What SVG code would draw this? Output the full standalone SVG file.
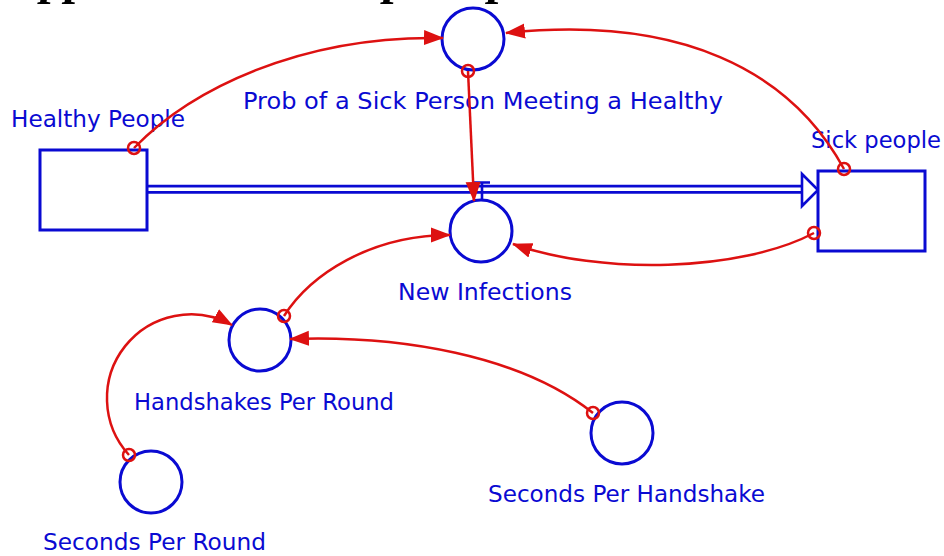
<svg xmlns="http://www.w3.org/2000/svg" width="944" height="556" viewBox="0 0 944 556">
<style>
.lbl{font-family:"DejaVu Sans","Liberation Sans",sans-serif;font-size:23px;fill:#0a0ad2}
.title{font-family:"Liberation Serif",serif;font-size:49px;font-weight:bold;font-style:italic;fill:#000}
.stock{fill:#fff;stroke:#0a0ad2;stroke-width:3}
.aux{fill:#fff;stroke:#0a0ad2;stroke-width:3}
.link{fill:none;stroke:#dd1111;stroke-width:2.5;marker-end:url(#ah)}
.org{fill:none;stroke:#dd1111;stroke-width:2.5}
</style>
<defs>
<marker id="ah" markerUnits="userSpaceOnUse" markerWidth="22" markerHeight="16" refX="19" refY="7.5" orient="auto" viewBox="0 0 22 15">
<path d="M0,0 L20,7.5 L0,15 Z" fill="#dd1111"/>
</marker>
</defs>
<rect width="944" height="556" fill="#fff"/>
<text class="title" x="8" y="-6">Application to Simple Epidemic</text>

<g id="flow">
<line x1="147" y1="189.3" x2="804" y2="189.3" stroke="#0a0ad2" stroke-width="9"/>
<line x1="146" y1="189.3" x2="806" y2="189.3" stroke="#fff" stroke-width="3.5"/>
<polygon points="802,174 818,190 802,206" fill="#fff" stroke="#0a0ad2" stroke-width="2.6"/>
<path d="M474,182.5 H490 M482,182.5 V200" fill="none" stroke="#0a0ad2" stroke-width="2.6"/>
</g>

<g id="healthy">
<rect class="stock" x="40" y="150" width="107" height="80"/>
<text class="lbl" x="11" y="127" textLength="174" lengthAdjust="spacingAndGlyphs">Healthy People</text>
</g>
<g id="sick">
<rect class="stock" x="818" y="171" width="107" height="80"/>
<text class="lbl" x="811" y="148" textLength="130" lengthAdjust="spacingAndGlyphs">Sick people</text>
</g>
<g id="prob">
<circle class="aux" cx="473" cy="39" r="31"/>
<text class="lbl" x="243" y="109" textLength="480" lengthAdjust="spacingAndGlyphs">Prob of a Sick Person Meeting a Healthy</text>
</g>
<g id="newinf">
<circle class="aux" cx="481" cy="231" r="31"/>
<text class="lbl" x="398" y="300" textLength="174" lengthAdjust="spacingAndGlyphs">New Infections</text>
</g>
<g id="hpr">
<circle class="aux" cx="260" cy="340" r="31"/>
<text class="lbl" x="134" y="410" textLength="260" lengthAdjust="spacingAndGlyphs">Handshakes Per Round</text>
</g>
<g id="spr">
<circle class="aux" cx="151" cy="482" r="31"/>
<text class="lbl" x="43" y="550" textLength="223" lengthAdjust="spacingAndGlyphs">Seconds Per Round</text>
</g>
<g id="sph">
<circle class="aux" cx="622" cy="433" r="31"/>
<text class="lbl" x="488" y="502" textLength="277" lengthAdjust="spacingAndGlyphs">Seconds Per Handshake</text>
</g>

<g id="connectors">
<path class="link" d="M134,148 C190,90 300,35 443,38"/>
<circle class="org" cx="134" cy="148" r="6"/>
<path class="link" d="M844,169 C790,70 680,15 506,33"/>
<circle class="org" cx="844" cy="169" r="6"/>
<path class="link" d="M468,71 L474,201"/>
<circle class="org" cx="468" cy="71" r="6"/>
<path class="link" d="M814,233 C740,272 600,275 513,244"/>
<circle class="org" cx="814" cy="233" r="6"/>
<path class="link" d="M284,316 C310,275 370,235 450,235"/>
<circle class="org" cx="284" cy="316" r="6"/>
<path class="link" d="M129,455 A84,84 0 0 1 232,325"/>
<circle class="org" cx="129" cy="455" r="6"/>
<path class="link" d="M593,413 C520,355 400,335 290,339"/>
<circle class="org" cx="593" cy="413" r="6"/>
</g>
</svg>
